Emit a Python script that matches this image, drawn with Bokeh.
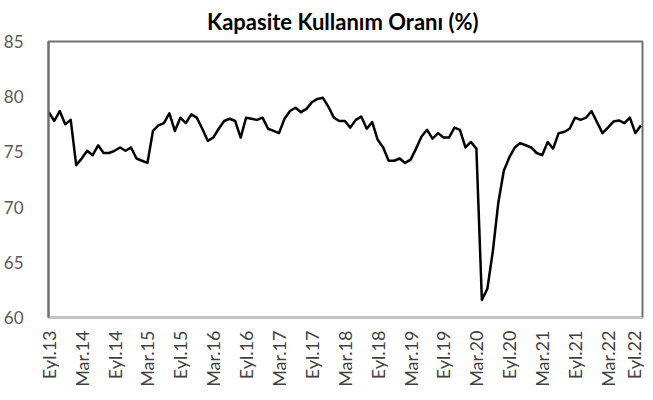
import math
from bokeh.plotting import figure
from bokeh.models import Range1d, FixedTicker, ColumnDataSource
from bokeh.embed import file_html
from bokeh.resources import INLINE

title = "Kapasite  Kullanım Oranı (%)"

# Monthly values, Sep 2013 (Eyl.13) .. Sep 2022 (Eyl.22)
values = [
    78.6, 77.8, 78.7, 77.5, 77.9, 73.8, 74.4, 75.1, 74.7, 75.6,
    74.9, 74.9, 75.1, 75.4, 75.1, 75.4, 74.4, 74.2, 74.0, 76.9,
    77.4, 77.6, 78.5, 76.9, 78.1, 77.6, 78.4, 78.1, 77.1, 76.0,
    76.3, 77.1, 77.8, 78.0, 77.8, 76.3, 78.1, 78.0, 77.9, 78.1,
    77.1, 76.9, 76.7, 78.0, 78.7, 79.0, 78.6, 78.9, 79.5, 79.8,
    79.9, 79.1, 78.1, 77.8, 77.8, 77.2, 77.9, 78.2, 77.1, 77.7,
    76.1, 75.4, 74.2, 74.2, 74.4, 74.0, 74.3, 75.3, 76.4, 77.0,
    76.2, 76.7, 76.3, 76.3, 77.2, 77.0, 75.4, 75.9, 75.3, 61.6,
    62.6, 66.0, 70.4, 73.3, 74.5, 75.4, 75.8, 75.6, 75.4, 74.9,
    74.7, 75.9, 75.3, 76.7, 76.8, 77.1, 78.1, 77.9, 78.1, 78.7,
    77.7, 76.7, 77.2, 77.75, 77.85, 77.6, 78.1, 76.7, 77.4,
]
months = list(range(len(values)))

tick_positions = list(range(0, 109, 6))
tick_labels = [
    "Eyl.13", "Mar.14", "Eyl.14", "Mar.15", "Eyl.15", "Mar.16", "Eyl.16",
    "Mar.17", "Eyl.17", "Mar.18", "Eyl.18", "Mar.19", "Eyl.19", "Mar.20",
    "Eyl.20", "Mar.21", "Eyl.21", "Mar.22", "Eyl.22",
]
y_ticks = [60, 65, 70, 75, 80, 85]

src = ColumnDataSource(dict(x=months, y=values))

p = figure(width=644, height=392, output_backend="svg", toolbar_location=None,
           x_range=Range1d(-0.05, 108.3), y_range=Range1d(60, 85),
           min_border_left=41, min_border_right=2, min_border_top=41,
           min_border_bottom=75)
p.background_fill_color = "white"
p.border_fill_color = "white"
p.outline_line_color = "#6f6f6f"
p.outline_line_width = 2
p.xgrid.visible = False
p.ygrid.visible = False

p.title.text = title
p.title.align = "center"
p.title.vertical_align = "top"
p.title.text_font = "Lato"
p.title.text_font_size = "22px"
p.title.text_font_style = "bold"
p.title.text_color = "black"
p.title.standoff = 10

p.line("x", "y", source=src, line_color="black", line_width=2.5, line_join="round")

xa = p.xaxis[0]
xa.ticker = FixedTicker(ticks=tick_positions)
xa.major_label_overrides = {t: l for t, l in zip(tick_positions, tick_labels)}
xa.major_label_orientation = math.pi / 2
xa.major_label_text_font = "Lato"
xa.major_label_text_font_size = "18px"
xa.major_label_text_color = "#404040"
xa.major_tick_line_color = None
xa.minor_tick_line_color = None
xa.axis_line_color = "#c8c8c8"
xa.axis_line_width = 2
xa.major_label_standoff = 7

ya = p.yaxis[0]
ya.ticker = FixedTicker(ticks=y_ticks)
ya.major_label_text_font = "Lato"
ya.major_label_text_font_size = "17px"
ya.major_label_text_color = "#595959"
ya.major_tick_line_color = None
ya.minor_tick_line_color = None
ya.axis_line_color = "#6f6f6f"
ya.axis_line_width = 2
ya.major_label_standoff = 19

open("out.html", "w").write(file_html(p, INLINE))
